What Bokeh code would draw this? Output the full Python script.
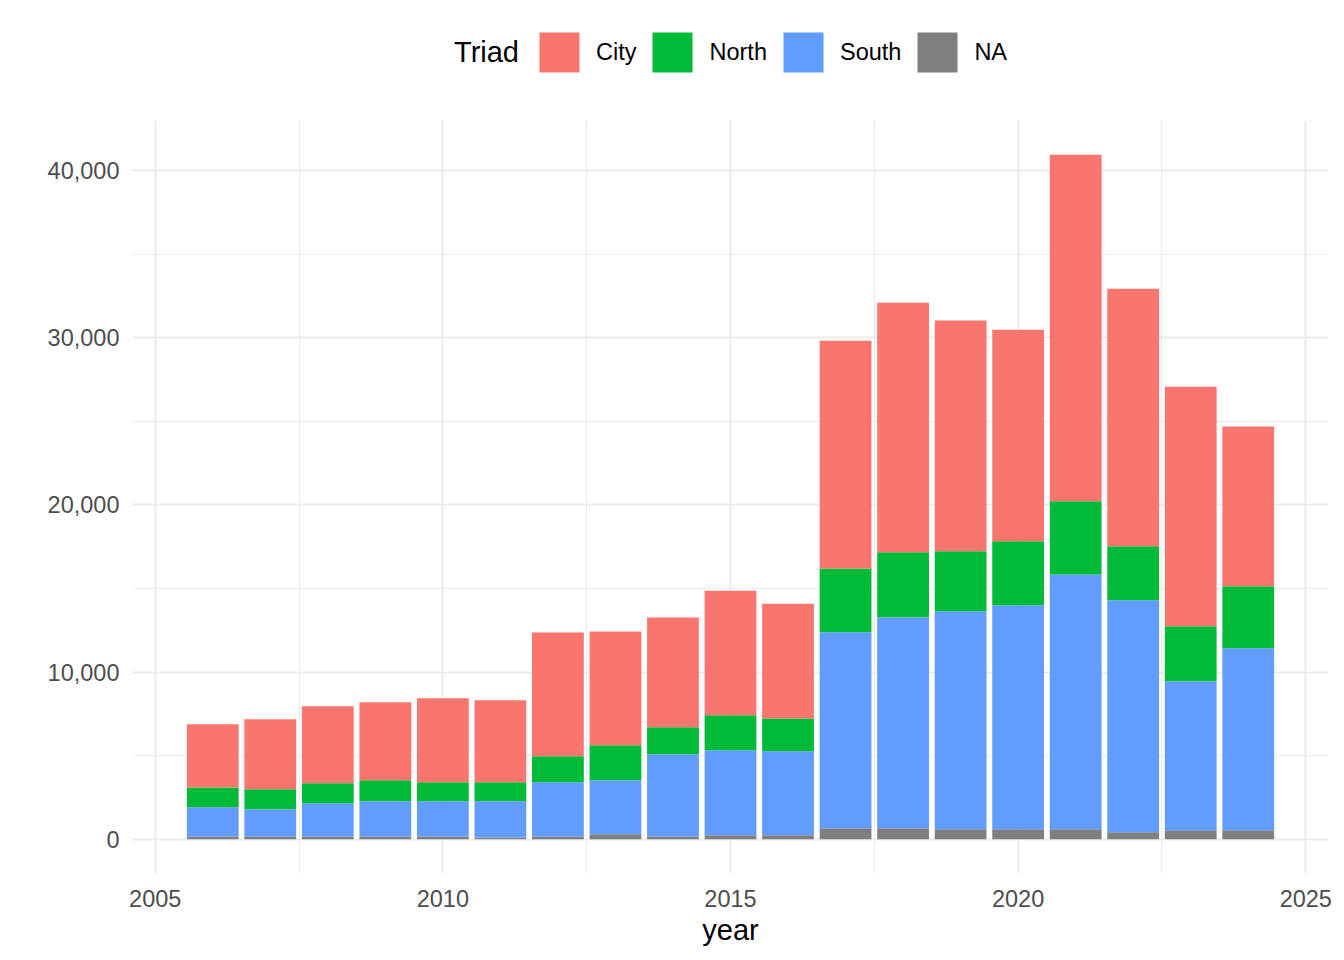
from bokeh.plotting import figure
from bokeh.layouts import column
from bokeh.models import (ColumnDataSource, Range1d, SingleIntervalTicker,
                          NumeralTickFormatter, Legend, LegendItem)
from bokeh.embed import file_html
from bokeh.resources import INLINE

# ---- data ----
years = list(range(2006, 2025))
na_vals = [160, 160, 160, 160, 160, 100, 160, 300, 160, 240, 240, 660, 660, 600, 600, 600, 420, 540, 540]
south = [1750, 1630, 1990, 2110, 2110, 2170, 3250, 3230, 4920, 5080, 5020, 11720, 12620, 13030, 13390, 15240, 13870, 8910, 10880]
north = [1190, 1200, 1200, 1260, 1140, 1140, 1550, 2090, 1620, 2090, 1970, 3820, 3880, 3590, 3830, 4370, 3230, 3290, 3710]
city = [3780, 4190, 4600, 4660, 5020, 4900, 7400, 6800, 6560, 7460, 6860, 13620, 14930, 13800, 12660, 20730, 15410, 14330, 9550]
series_names = ["NA", "South", "North", "City"]
series_colors = ["#7F7F7F", "#619CFF", "#00BA38", "#F8766D"]
legend_order = ["City", "North", "South", "NA"]
legend_title = "Triad"
y_ticks_interval = 10000
x_ticks_interval = 5

src = ColumnDataSource(dict(year=years, NA=na_vals, South=south, North=north, City=city))

totals = [a + b + c + d for a, b, c, d in zip(na_vals, south, north, city)]
ymax = max(totals)
bar_w = 0.9
xlo, xhi = min(years) - bar_w / 2, max(years) + bar_w / 2
xpad = 0.05 * (xhi - xlo)

FONT = "Liberation Sans"
W = 1336
LEG_H = 120

# ---------------- main chart ----------------
p = figure(width=W, height=832, output_backend="svg", toolbar_location=None,
           x_range=Range1d(xlo - xpad, xhi + xpad),
           y_range=Range1d(-0.05 * ymax, 1.05 * ymax),
           min_border_left=132, min_border_right=8, min_border_top=0, min_border_bottom=79)
p.outline_line_color = None
p.background_fill_color = "white"
p.border_fill_color = "white"

rends = p.vbar_stack(series_names, x="year", width=bar_w, source=src,
                     color=series_colors, line_color=None)

p.xaxis.ticker = SingleIntervalTicker(interval=x_ticks_interval, num_minor_ticks=2)
p.yaxis.ticker = SingleIntervalTicker(interval=y_ticks_interval, num_minor_ticks=2)
p.yaxis.formatter = NumeralTickFormatter(format="0,0")
for ax in (p.xaxis, p.yaxis):
    ax.axis_line_color = None
    ax.major_tick_line_color = None
    ax.minor_tick_line_color = None
    ax.major_tick_out = 0
    ax.major_tick_in = 0
    ax.major_label_text_font = FONT
    ax.major_label_text_font_size = "23.5px"
    ax.major_label_text_color = "#4D4D4D"
p.xaxis.major_label_standoff = 12
p.yaxis.major_label_standoff = 9
p.xaxis.axis_label = "year"
p.xaxis.axis_label_text_font = FONT
p.xaxis.axis_label_text_font_size = "29px"
p.xaxis.axis_label_text_font_style = "normal"
p.xaxis.axis_label_text_color = "black"
p.xaxis.axis_label_standoff = 4

for g in (p.xgrid, p.ygrid):
    g.grid_line_color = "#EBEBEB"
    g.grid_line_width = 2
    g.minor_grid_line_color = "#EBEBEB"
    g.minor_grid_line_width = 1

# ---------------- legend strip ----------------
lf = figure(width=W, height=LEG_H, output_backend="svg", toolbar_location=None,
            x_range=Range1d(0, 1), y_range=Range1d(0, 1),
            x_axis_type=None, y_axis_type=None,
            min_border_left=0, min_border_right=0, min_border_top=0, min_border_bottom=0)
lf.outline_line_color = None
lf.xgrid.visible = False
lf.ygrid.visible = False
lf.background_fill_color = "white"
lf.border_fill_color = "white"

# legend key renderers (kept outside the visible range; only their legend swatches show)
color_of = dict(zip(series_names, series_colors))
key_rends = {n: lf.rect(x=[-5], y=[-5], width=0.1, height=0.1, color=color_of[n], line_color=None)
             for n in legend_order}
blank = lf.rect(x=[-5], y=[-5], width=0.1, height=0.1, fill_alpha=0, line_alpha=0)

lg_title = Legend(items=[LegendItem(label=legend_title, renderers=[blank])],
                  location=(321, 43), orientation="horizontal",
                  glyph_width=1, glyph_height=50, label_standoff=0,
                  label_text_font=FONT, label_text_font_size="29px", label_text_color="black",
                  padding=0, margin=0, border_line_color=None, background_fill_alpha=0)
lf.add_layout(lg_title, "center")

lg = Legend(items=[LegendItem(label=n, renderers=[key_rends[n]]) for n in legend_order],
            location=(402, 43), orientation="horizontal",
            glyph_width=50, glyph_height=50, label_standoff=12, spacing=11,
            label_text_font=FONT, label_text_font_size="23.5px", label_text_color="black",
            padding=0, margin=0, border_line_color=None, background_fill_alpha=0)
lf.add_layout(lg, "center")

layout = column(lf, p, spacing=0)
open("out.html", "w").write(file_html(layout, INLINE))
